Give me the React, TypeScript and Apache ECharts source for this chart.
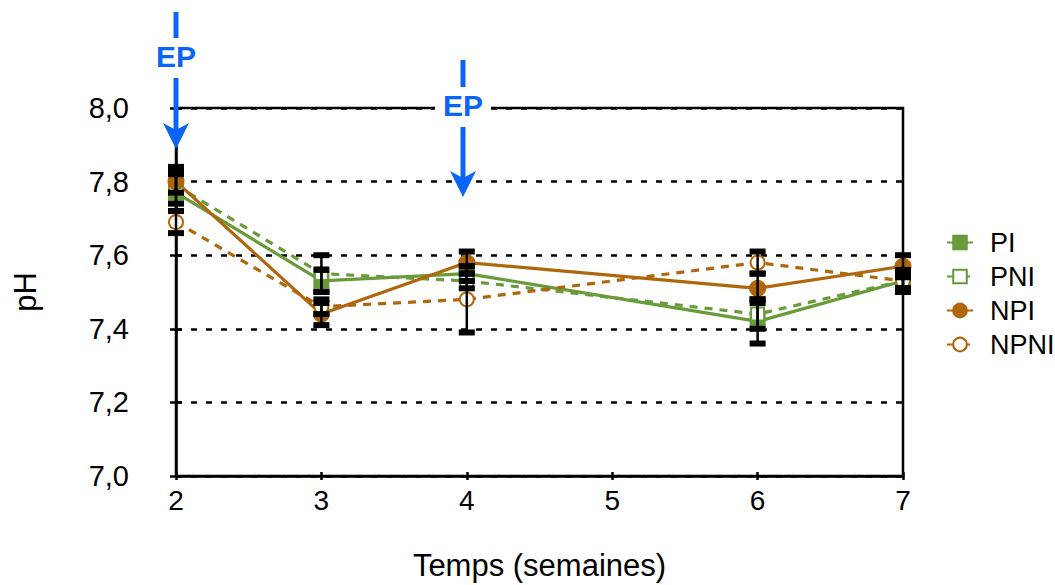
import React, { useEffect, useRef } from "react";
import * as echarts from "echarts";

const weeks = [2, 3, 4, 6, 7];
const yTicks = [7.0, 7.2, 7.4, 7.6, 7.8, 8.0];

const piMean = [7.77, 7.53, 7.55, 7.42, 7.53];
const piErr = [0.05, 0.03, 0.02, 0.06, 0.02];
const pniMean = [7.79, 7.55, 7.53, 7.44, 7.53];
const pniErr = [0.05, 0.05, 0.02, 0.04, 0.02];
const npiMean = [7.8, 7.44, 7.58, 7.51, 7.57];
const npiErr = [0.03, 0.03, 0.03, 0.04, 0.03];
const npniMean = [7.69, 7.46, 7.48, 7.58, 7.53];
const npniErr = [0.03, 0.02, 0.09, 0.03, 0.03];

const GREEN = "#689b3a";
const ORANGE = "#b0660c";
const BLUE = "#0a64f5";
const FONT = "Liberation Sans, Arial, sans-serif";

const errData = (m: number[], e: number[]) =>
  weeks.map((w, i) => [w, m[i] - e[i], m[i] + e[i]]);

const errSeries = (name: string, m: number[], e: number[]) => ({
  type: "custom",
  name: name + "_err",
  z: 5,
  data: errData(m, e),
  renderItem: (params: any, api: any) => {
    const x = api.value(0);
    const lo = api.coord([x, api.value(1)]);
    const hi = api.coord([x, api.value(2)]);
    return {
      type: "group",
      children: [
        { type: "line", shape: { x1: lo[0], y1: lo[1], x2: hi[0], y2: hi[1] }, style: { stroke: "#000", lineWidth: 2.5 } },
        { type: "rect", shape: { x: hi[0] - 8, y: hi[1] - 3, width: 16, height: 6 }, style: { fill: "#000" } },
        { type: "rect", shape: { x: lo[0] - 8, y: lo[1] - 3, width: 16, height: 6 }, style: { fill: "#000" } },
      ],
    };
  },
});

const lineSeries = (name: string, m: number[], color: string, symbol: string, dashed: boolean) => ({
  type: "line",
  name,
  z: 3,
  data: weeks.map((w, i) => [w, m[i]]),
  symbol,
  symbolSize: symbol.includes("ircle") ? 14 : 13,
  itemStyle: { color, borderColor: color, borderWidth: 3 },
  lineStyle: { color, width: 3.2, type: dashed ? [8, 7] : "solid" },
});

const arrow = (x: number, yTop: number, yText: number, yTip: number) => [
  { type: "line", z: 100, shape: { x1: x, y1: yTop, x2: x, y2: yText - 18 }, style: { stroke: BLUE, lineWidth: 5 } },
  { type: "rect", z: 99, shape: { x: x - 28, y: yText - 15, width: 56, height: 30 }, style: { fill: "#fff" } },
  {
    type: "text", z: 101, x, y: yText,
    style: { text: "EP", fill: BLUE, font: `bold 30px ${FONT}`, align: "center", verticalAlign: "middle" },
  },
  { type: "line", z: 100, shape: { x1: x, y1: yText + 22, x2: x, y2: yTip - 18 }, style: { stroke: BLUE, lineWidth: 5 } },
  {
    type: "polygon", z: 100,
    shape: { points: [[x - 13, yTip - 26], [x, yTip - 19], [x + 13, yTip - 26], [x, yTip]] },
    style: { fill: BLUE },
  },
];

export default function App() {
  const ref = useRef<HTMLDivElement>(null);
  useEffect(() => {
    document.body.style.margin = "0";
    const chart = echarts.init(ref.current!, null, { renderer: "svg" });
    const labelFmt = (v: number) => v.toFixed(1).replace(".", ",");
    chart.setOption({
      animation: false,
      backgroundColor: "#fff",
      textStyle: { fontFamily: FONT },
      grid: {
        left: 176, right: 152, top: 108, bottom: 109, show: true,
        borderColor: "#000", borderWidth: 2.5, backgroundColor: "transparent",
        outerBoundsMode: "none", containLabel: false,
      },
      legend: {
        orient: "vertical",
        left: 941,
        top: 224,
        itemWidth: 26,
        itemHeight: 17,
        itemGap: 7,
        data: ["PI", "PNI", "NPI", "NPNI"],
        textStyle: { fontSize: 27, lineHeight: 27, color: "#000", fontFamily: FONT, padding: [0, 0, 0, 12] },
      },
      xAxis: [
        {
          type: "value", min: 2, max: 7, interval: 1,
          name: "Temps (semaines)", nameLocation: "middle", nameGap: 74,
          nameTextStyle: { fontSize: 31, color: "#000", fontFamily: FONT },
          axisLine: { lineStyle: { color: "#000", width: 2.5 } },
          axisTick: { show: true, length: 4, lineStyle: { color: "#000", width: 2.5 } },
          axisLabel: { fontSize: 28, color: "#000", margin: 10, fontFamily: FONT },
          splitLine: { show: false },
        },
        {
          type: "value", min: 2, max: 7, interval: 1, position: "bottom",
          axisLine: { show: false },
          axisTick: { show: true, inside: true, length: 4, lineStyle: { color: "#000", width: 2.5 } },
          axisLabel: { show: false }, splitLine: { show: false },
        },
      ],
      yAxis: [
        {
          type: "value", min: 7.0, max: 8.0, interval: 0.2,
          name: "pH", nameLocation: "middle", nameGap: 135, nameRotate: 90,
          nameTextStyle: { fontSize: 31, color: "#000", fontFamily: FONT },
          axisLine: { show: true, lineStyle: { color: "#000", width: 2.5 } },
          axisTick: { show: true, length: 6, lineStyle: { color: "#000", width: 2.5 } },
          axisLabel: { fontSize: 29, color: "#000", margin: 47, formatter: labelFmt, fontFamily: FONT },
          splitLine: { show: true, lineStyle: { color: "#000", width: 2.5, type: [6, 9] } },
        },
        {
          type: "value", min: 7.0, max: 8.0, interval: 0.2, position: "left",
          axisLine: { show: false },
          axisTick: { show: true, inside: true, length: 6, lineStyle: { color: "#000", width: 2.5 } },
          axisLabel: { show: false }, splitLine: { show: false },
        },
      ],
      series: [
        lineSeries("PI", piMean, GREEN, "rect", false),
        lineSeries("PNI", pniMean, GREEN, "emptyRect", true),
        lineSeries("NPI", npiMean, ORANGE, "circle", false),
        lineSeries("NPNI", npniMean, ORANGE, "emptyCircle", true),
        errSeries("PI", piMean, piErr),
        errSeries("PNI", pniMean, pniErr),
        errSeries("NPI", npiMean, npiErr),
        errSeries("NPNI", npniMean, npniErr),
      ],
      graphic: [...arrow(176, 12, 56, 149), ...arrow(463, 60, 105, 197)],
    });
    return () => chart.dispose();
  }, []);
  return <div ref={ref} style={{ position: "absolute", left: 0, top: 0, width: 1055, height: 585 }} />;
}
